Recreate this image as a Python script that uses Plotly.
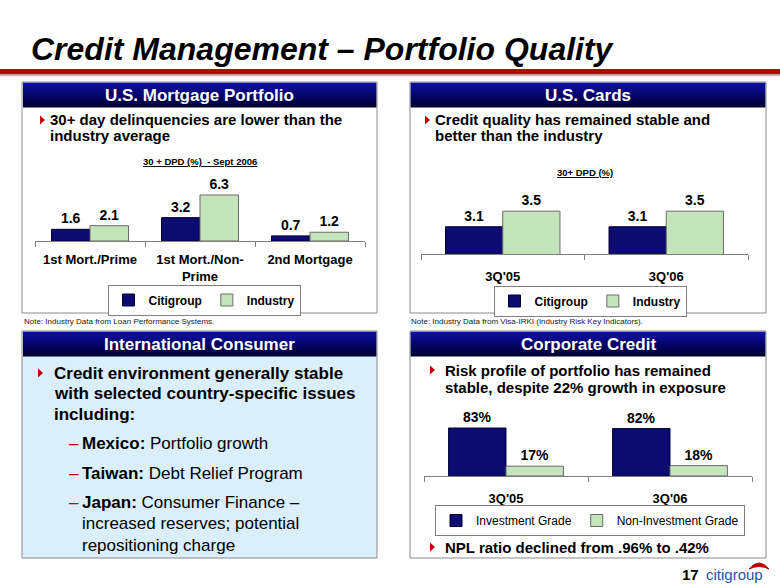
import plotly.graph_objects as go

W, H = 780, 587
FONT = "Liberation Sans"

# ---------------- data ----------------
mort_categories = ["1st Mort./Prime", "1st Mort./Non-<br>Prime", "2nd Mortgage"]
mort_citigroup = [1.6, 3.2, 0.7]
mort_industry = [2.1, 6.3, 1.2]

cards_categories = ["3Q'05", "3Q'06"]
cards_citigroup = [3.1, 3.1]
cards_industry = [3.5, 3.5]

corp_categories = ["3Q'05", "3Q'06"]
corp_investment = [83, 82]
corp_non_investment = [17, 18]

NAVY = "#0B0B72"
GREEN = "#C4E4BC"
RED = "#C00000"


def px(x):
    return x / W


def py(y):
    return 1 - y / H


fig = go.Figure()


def bar(x, y, name, color, line, axis, legend, fmt, showlegend=True):
    fig.add_bar(
        x=x, y=y, name=name,
        marker=dict(color=color, line=dict(color=line, width=1)),
        text=[fmt.format(v) for v in y], textposition="outside",
        textfont=dict(family=FONT, size=14, color="black", weight="bold"),
        xaxis="x" + axis, yaxis="y" + axis, legend=legend,
        hoverinfo="skip", showlegend=showlegend,
    )


bar(mort_categories, mort_citigroup, "Citigroup", NAVY, "#000030", "", "legend", "{:.1f}")
bar(mort_categories, mort_industry, "Industry", GREEN, "#6A6A6A", "", "legend", "{:.1f}")
bar(cards_categories, cards_citigroup, "Citigroup", NAVY, "#000030", "2", "legend2", "{:.1f}")
bar(cards_categories, cards_industry, "Industry", GREEN, "#6A6A6A", "2", "legend2", "{:.1f}")
bar(corp_categories, corp_investment, "Investment Grade", NAVY, "#000030", "3", "legend3", "{:d}%")
bar(corp_categories, corp_non_investment, "Non-Investment Grade", GREEN, "#6A6A6A", "3", "legend3", "{:d}%")


def xaxis(x0, x1, anchor, standoff):
    return dict(
        domain=[px(x0), px(x1)], anchor=anchor, showline=True, linecolor="#7F7F7F",
        linewidth=1, ticks="outside", tickson="boundaries", ticklen=5,
        tickcolor="#7F7F7F", showgrid=False, zeroline=False, fixedrange=True,
        tickfont=dict(family=FONT, size=13, color="black", weight="bold"),
        ticklabelstandoff=standoff,
    )


def yaxis(top, bottom, rng, anchor):
    return dict(domain=[py(bottom), py(top)], range=rng, visible=False,
                anchor=anchor, fixedrange=True)


def legend(xc, yc, size, weight):
    return dict(
        orientation="h", x=px(xc), y=py(yc), xanchor="center", yanchor="middle",
        bordercolor="#7F7F7F", borderwidth=1, bgcolor="white",
        font=dict(family=FONT, size=size, color="black", weight=weight),
        itemwidth=30, traceorder="normal",
    )


shapes = []
annotations = []


def rect(x0, y0, x1, y1, fill=None, line=None, lw=1, layer="below"):
    shapes.append(dict(
        type="rect", xref="paper", yref="paper",
        x0=px(x0), x1=px(x1), y0=py(y1), y1=py(y0),
        fillcolor=fill if fill else "rgba(0,0,0,0)",
        line=dict(color=line if line else "rgba(0,0,0,0)", width=lw if line else 0),
        layer=layer,
    ))


def header(x0, y0, x1, y1, title):
    n = 12
    h = (y1 - y0) / n
    for i in range(n):
        t = i / (n - 1)
        r = int(14 * (1 - t))
        g = int(14 * (1 - t))
        b = int(165 * (1 - t) + 55 * t)
        rect(x0, y0 + i * h, x1, y0 + (i + 1) * h + 0.5, fill=f"rgb({r},{g},{b})")
    txt((x0 + x1) / 2, (y0 + y1) / 2 + 0.5, "<b>" + title + "</b>", 17, "white", "center")


def txt(x, y, text, size, color="black", anchor="left"):
    annotations.append(dict(
        xref="paper", yref="paper", x=px(x), y=py(y), text=text, showarrow=False,
        xanchor=anchor, yanchor="middle",
        font=dict(family=FONT, size=size, color=color),
    ))


def tri(x, y):
    shapes.append(dict(
        type="path", xref="paper", yref="paper",
        path=f"M {px(x)} {py(y - 4.5)} L {px(x + 5)} {py(y)} L {px(x)} {py(y + 4.5)} Z",
        fillcolor=RED, line=dict(width=0), layer="above",
    ))


# title and red rule
txt(29, 49, "<b><i>Credit Management – Portfolio Quality</i></b>", 32)
rect(0, 69, W, 74.5, fill=RED)
rect(0, 74.5, W, 76, fill="#B8B8B8")

# panels
rect(22, 331, 377, 558, fill="#DAEEFB")
for (x0, y0, x1, y1) in [(22, 82, 377, 313), (410, 82, 766, 313),
                         (22, 331, 377, 558), (410, 331, 766, 558)]:
    rect(x0, y0, x1, y1, line="#8A8A8A", lw=1, layer="above")

header(23, 82.5, 376.5, 107, "U.S. Mortgage Portfolio")
header(410.5, 82.5, 765.5, 107, "U.S. Cards")
header(23, 331.5, 376.5, 356, "International Consumer")
header(410.5, 331.5, 765.5, 356, "Corporate Credit")

# top-left texts
tri(40, 120)
txt(48, 120, "<b>30+ day delinquencies are lower than the</b>", 15)
txt(48, 136, "<b>industry average</b>", 15)
txt(200, 161, "<b><u>30 + DPD (%)  - Sept 2006</u></b>", 9.5, anchor="center")
txt(22, 321, "Note: Industry Data from Loan Performance Systems.", 8, "#202020")

# top-right texts
tri(425, 120)
txt(433, 120, "<b>Credit quality has remained stable and</b>", 15)
txt(433, 136, "<b>better than the industry</b>", 15)
txt(585, 172, "<b><u>30+ DPD (%)</u></b>", 9.5, anchor="center")
txt(409, 321, "Note: Industry Data from Visa-IRKI (Industry Risk Key Indicators).", 8, "#202020")

# bottom-left texts
tri(38, 373)
txt(52, 373, "<b>Credit environment generally stable</b>", 17)
txt(52, 393.5, "<b>with selected country-specific issues</b>", 17)
txt(52, 414, "<b>including:</b>", 17)
for yy, line in [(443, "<b>Mexico:</b> Portfolio growth"),
                 (473, "<b>Taiwan:</b> Debt Relief Program"),
                 (502, "<b>Japan:</b> Consumer Finance –")]:
    txt(67, yy, "–", 17, RED)
    txt(80, yy, line, 17)
txt(80, 523.5, "increased reserves; potential", 17)
txt(80, 545, "repositioning charge", 17)

# bottom-right texts
tri(430, 370)
txt(443, 370, "<b>Risk profile of portfolio has remained</b>", 15)
txt(443, 387, "<b>stable, despite 22% growth in exposure</b>", 15)
tri(430, 547)
txt(443, 547, "<b>NPL ratio declined from .96% to .42%</b>", 15)

# page number and logo
txt(690, 574, "<b>17</b>", 15, anchor="center")
txt(704, 574, "citigroup", 15, "#2F4F9F")
shapes.append(dict(
    type="path", xref="paper", yref="paper",
    path=(f"M {px(749)} {py(569)} Q {px(759)} {py(557)} {px(769)} {py(569)} "
          f"Q {px(759)} {py(564)} {px(749)} {py(569)} Z"),
    fillcolor=RED, line=dict(color=RED, width=1), layer="above",
))

fig.update_layout(
    width=W, height=H, margin=dict(l=0, r=0, t=0, b=0),
    paper_bgcolor="white", plot_bgcolor="rgba(0,0,0,0)",
    barmode="group", bargap=0.3, bargroupgap=0,
    font=dict(family=FONT, color="black"),
    xaxis=xaxis(35, 365, "y", 6),
    yaxis=yaxis(176, 241, [0, 8.9], "x"),
    xaxis2=xaxis(421, 748, "y2", 10),
    yaxis2=yaxis(180, 254, [2.4, 4.3], "x2"),
    xaxis3=xaxis(424, 752, "y3", 10),
    yaxis3=yaxis(402, 476, [0, 128], "x3"),
    legend=legend(204, 300, 12, "bold"),
    legend2=legend(590, 301, 12, "bold"),
    legend3=legend(590, 520.5, 12, "normal"),
    shapes=shapes, annotations=annotations,
    showlegend=True,
)

fig.write_html(
    "out.html",
    config={"displayModeBar": False},
    post_script="document.body.style.margin='0';document.body.style.overflow='hidden';",
)
